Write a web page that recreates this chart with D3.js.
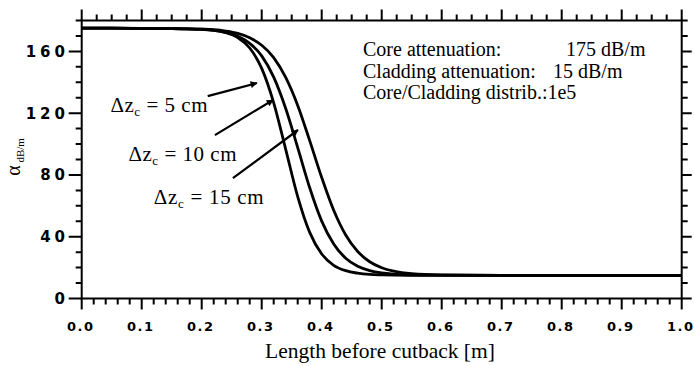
<!DOCTYPE html>
<html>
<head>
<meta charset="utf-8">
<script src="https://cdn.jsdelivr.net/npm/d3@7"></script>
<style>
  html, body { margin: 0; padding: 0; background: #fff; }
  svg { display: block; }
</style>
</head>
<body>
<svg id="chart" width="694" height="366"></svg>
<script>
// Length before cutback (m) at which the loss was evaluated
const lengths = [0, 0.05, 0.10, 0.15, 0.20, 0.22, 0.24, 0.26, 0.28, 0.30, 0.32, 0.34, 0.36,
                 0.38, 0.40, 0.42, 0.44, 0.46, 0.48, 0.50, 0.52, 0.55, 0.60, 0.70, 0.80, 0.90, 1.00];
// Measured attenuation (dB/m) for each core-section length
const loss5cm  = [175, 175, 174.9, 174.8, 174.4, 173.7, 172.2, 169.0, 162.2, 149.0, 126.7, 96.6, 66.0,
                  42.8, 28.8, 21.5, 18.0, 16.4, 15.6, 15.3, 15.1, 15.0, 15.0, 15.0, 15.0, 15.0, 15.0];
const loss10cm = [175, 175, 174.9, 174.7, 174.3, 173.6, 172.3, 169.8, 165.2, 157.1, 143.3, 123.0, 97.7,
                  71.7, 50.1, 35.3, 26.1, 20.9, 18.1, 16.6, 15.8, 15.3, 15.1, 15.0, 15.0, 15.0, 15.0];
const loss15cm = [175, 175, 174.9, 174.8, 174.4, 174.0, 173.1, 171.6, 168.8, 164.0, 156.0, 143.1, 125.0,
                  102.2, 78.3, 57.1, 41.1, 30.4, 23.8, 19.9, 17.7, 16.1, 15.3, 15.0, 15.0, 15.0, 15.0];
const seriesNames = ["5 cm", "10 cm", "15 cm"];

const xTickLabels = ["0.0", "0.1", "0.2", "0.3", "0.4", "0.5", "0.6", "0.7", "0.8", "0.9", "1.0"];
const yTickLabels = ["0", "40", "80", "120", "160"];

// Label anchor (length, dB/m) and arrow from/to for each series
const labelAt   = [[0.048, 120.5], [0.078, 89.0], [0.120, 61.0]];
const labelLen  = [97, 108, 110];
const arrowFrom = [[0.210, 131.0], [0.222, 105.8], [0.252, 77.9]];
const arrowTo   = [[0.292, 139.5], [0.319, 128.5], [0.3605, 109.1]];

const infoLines = [
  ["Core attenuation:", "175 dB/m"],
  ["Cladding attenuation:", "15 dB/m"],
  ["Core/Cladding distrib.:1e5", ""]
];

const svg = d3.select("#chart");
const x = d3.scaleLinear().domain([0, 1]).range([81.7, 681.7]);
const y = d3.scaleLinear().domain([0, 180]).range([298.5, 20.5]);

const serif = "'Liberation Serif', 'Times New Roman', serif";
const sans = "'DejaVu Sans', 'Liberation Sans', sans-serif";

// frame
svg.append("rect")
  .attr("x", x(0)).attr("y", y(180))
  .attr("width", x(1) - x(0)).attr("height", y(0) - y(180))
  .attr("fill", "none").attr("stroke", "#000").attr("stroke-width", 2);

// tick marks, outward on all four sides, built as one path
const tp = d3.path();
x.ticks(50).forEach(d => {                       // bottom: every 0.02, long at 0.1
  const len = Math.round(d * 50) % 5 === 0 ? 11 : 6;
  tp.moveTo(x(d), y(0)); tp.lineTo(x(d), y(0) + len);
});
d3.range(0, 41).map(i => i / 40).forEach(d => {  // top: every 0.025, long at 0.1
  const len = Math.round(d * 40) % 4 === 0 ? 11 : 6;
  tp.moveTo(x(d), y(180)); tp.lineTo(x(d), y(180) - len);
});
y.ticks(18).forEach(d => {                       // left and right: every 10, long at 40
  tp.moveTo(x(0), y(d)); tp.lineTo(x(0) - (d % 40 === 0 ? 13 : 6), y(d));
  tp.moveTo(x(1), y(d)); tp.lineTo(x(1) + (d % 40 === 0 ? 10 : 6), y(d));
});
svg.append("path")
  .attr("d", tp.toString())
  .attr("fill", "none").attr("stroke", "#000").attr("stroke-width", 2);

// tick labels
svg.append("g").selectAll("text").data(xTickLabels).join("text")
  .attr("x", (d, i) => x(i / 10) - 1)
  .attr("y", 331)
  .attr("text-anchor", "middle")
  .attr("font-family", sans).attr("font-size", 13).attr("font-weight", "bold")
  .attr("letter-spacing", 1.5)
  .text(d => d);
svg.append("g").selectAll("text").data(yTickLabels).join("text")
  .attr("x", 69)
  .attr("y", d => y(+d) + 5.5)
  .attr("text-anchor", "end")
  .attr("font-family", sans).attr("font-size", 15).attr("font-weight", "bold")
  .attr("letter-spacing", 4)
  .text(d => d);

// curves
const line = d3.line()
  .x((d, i) => x(lengths[i]))
  .y(d => y(d))
  .curve(d3.curveMonotoneX);
svg.append("g").selectAll("path").data([loss5cm, loss10cm, loss15cm]).join("path")
  .attr("d", d => line(d))
  .attr("fill", "none").attr("stroke", "#000").attr("stroke-width", 2.8);

// arrows
svg.append("defs").append("marker")
  .attr("id", "head").attr("viewBox", "0 0 10 10")
  .attr("refX", 9).attr("refY", 5)
  .attr("markerWidth", 10).attr("markerHeight", 7)
  .attr("markerUnits", "userSpaceOnUse")
  .attr("orient", "auto")
  .append("path").attr("d", "M0,0 L10,5 L0,10 Z").attr("fill", "#000");
svg.append("g").selectAll("line").data(seriesNames).join("line")
  .attr("x1", (d, i) => x(arrowFrom[i][0])).attr("y1", (d, i) => y(arrowFrom[i][1]))
  .attr("x2", (d, i) => x(arrowTo[i][0])).attr("y2", (d, i) => y(arrowTo[i][1]))
  .attr("stroke", "#000").attr("stroke-width", 2.2)
  .attr("marker-end", "url(#head)");

// series labels: Δz_c = n cm
const lab = svg.append("g").selectAll("text").data(seriesNames).join("text")
  .attr("x", (d, i) => x(labelAt[i][0]))
  .attr("y", (d, i) => y(labelAt[i][1]))
  .attr("textLength", (d, i) => labelLen[i])
  .attr("lengthAdjust", "spacing")
  .attr("font-family", serif).attr("font-size", 21);
lab.append("tspan").text("Δz");
lab.append("tspan").attr("font-size", 13).attr("dy", 4).text("c");
lab.append("tspan").attr("dy", -4).text(d => " = " + d);

// info block
const info = svg.append("g").attr("font-family", serif).attr("font-size", 20);
info.selectAll("text.k").data(infoLines).join("text").attr("class", "k")
  .attr("x", 363).attr("y", (d, i) => 56 + i * 21.5)
  .text(d => d[0]);
info.selectAll("text.v").data(infoLines).join("text").attr("class", "v")
  .attr("x", (d, i) => (i === 0 ? 566 : 553)).attr("y", (d, i) => 56 + i * 21.5)
  .text(d => d[1]);

// axis titles
svg.append("text")
  .attr("x", 380).attr("y", 358)
  .attr("text-anchor", "middle")
  .attr("font-family", serif).attr("font-size", 21.5)
  .text("Length  before cutback [m]");

const yt = svg.append("text")
  .attr("transform", "translate(20,157) rotate(-90)")
  .attr("text-anchor", "middle")
  .attr("font-family", serif).attr("font-size", 20);
yt.append("tspan").text("α");
yt.append("tspan").attr("font-size", 11).attr("dy", 4).text(" dB/m");
</script>
</body>
</html>
